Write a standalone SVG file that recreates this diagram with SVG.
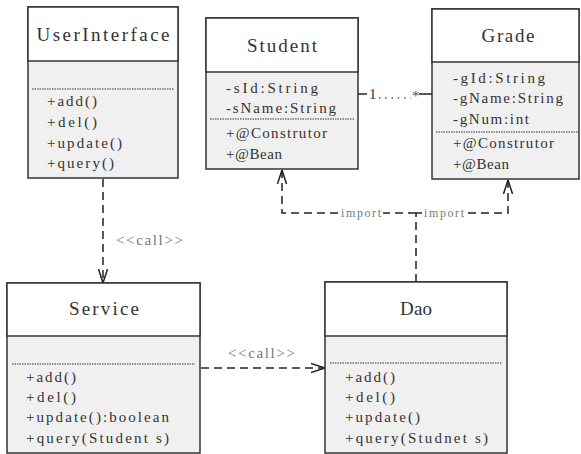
<svg xmlns="http://www.w3.org/2000/svg" width="581" height="454" viewBox="0 0 581 454">
<style>
.box{fill:#f0f0f0;stroke:#333;stroke-width:1.5}
.head{fill:#fff;stroke:#333;stroke-width:1.5}
.sep{stroke:#333;stroke-width:1;stroke-dasharray:1.5 1}
text{font-family:"Liberation Serif",serif}
.title{font-size:19px;fill:#333;text-anchor:middle}
.mem{font-size:15px;fill:#333}
.lbl{font-size:15px;fill:#777}
.imp{font-size:12px;fill:#777}
.dash{fill:none;stroke:#222;stroke-width:1.5;stroke-dasharray:8 5}
.solid{fill:none;stroke:#222;stroke-width:1.5}
</style>
<defs>
<marker id="open" viewBox="0 0 14 12" refX="14" refY="6" markerWidth="14" markerHeight="12" markerUnits="userSpaceOnUse" orient="auto">
<path d="M0,1.5 L14,6 L0,10.5" fill="none" stroke="#222" stroke-width="1.5"/>
</marker>
</defs>
<rect width="581" height="454" fill="#fff"/>

<g id="UserInterface">
<rect class="box" x="28" y="7" width="150" height="171"/>
<rect class="head" x="28" y="7" width="150" height="54"/>
<text class="title" x="103" y="41" textLength="133" lengthAdjust="spacing">UserInterface</text>
<line class="sep" x1="32" y1="89" x2="174" y2="89"/>
<text class="mem" x="47" y="106" textLength="50" lengthAdjust="spacing">+add()</text>
<text class="mem" x="47" y="127" textLength="50" lengthAdjust="spacing">+del()</text>
<text class="mem" x="47" y="148" textLength="75" lengthAdjust="spacing">+update()</text>
<text class="mem" x="47" y="168" textLength="67" lengthAdjust="spacing">+query()</text>
</g>

<g id="Student">
<rect class="box" x="206" y="18" width="152" height="151"/>
<rect class="head" x="206" y="18" width="152" height="54"/>
<text class="title" x="282" y="52" textLength="70" lengthAdjust="spacing">Student</text>
<text class="mem" x="226" y="93" textLength="92" lengthAdjust="spacing">-sId:String</text>
<text class="mem" x="226" y="113" textLength="110" lengthAdjust="spacing">-sName:String</text>
<line class="sep" x1="210" y1="119" x2="354" y2="119"/>
<text class="mem" x="226" y="138" textLength="101" lengthAdjust="spacing">+@Construtor</text>
<text class="mem" x="226" y="159" textLength="56" lengthAdjust="spacing">+@Bean</text>
</g>

<g id="Grade">
<rect class="box" x="432" y="9" width="147" height="170"/>
<rect class="head" x="432" y="9" width="147" height="53"/>
<text class="title" x="508" y="42" textLength="53" lengthAdjust="spacing">Grade</text>
<text class="mem" x="453" y="83" textLength="92" lengthAdjust="spacing">-gId:String</text>
<text class="mem" x="453" y="103" textLength="110" lengthAdjust="spacing">-gName:String</text>
<text class="mem" x="453" y="124" textLength="76" lengthAdjust="spacing">-gNum:int</text>
<line class="sep" x1="436" y1="132" x2="579" y2="132"/>
<text class="mem" x="453" y="148" textLength="101" lengthAdjust="spacing">+@Construtor</text>
<text class="mem" x="453" y="169" textLength="56" lengthAdjust="spacing">+@Bean</text>
</g>

<g id="Service">
<rect class="box" x="7" y="283" width="193" height="170"/>
<rect class="head" x="7" y="283" width="193" height="53"/>
<text class="title" x="104" y="315" textLength="70" lengthAdjust="spacing">Service</text>
<line class="sep" x1="12" y1="364" x2="195" y2="364"/>
<text class="mem" x="26" y="382" textLength="50" lengthAdjust="spacing">+add()</text>
<text class="mem" x="26" y="402" textLength="50" lengthAdjust="spacing">+del()</text>
<text class="mem" x="26" y="422" textLength="143" lengthAdjust="spacing">+update():boolean</text>
<text class="mem" x="26" y="443" textLength="143" lengthAdjust="spacing">+query(Student s)</text>
</g>

<g id="Dao">
<rect class="box" x="325" y="282" width="182" height="171"/>
<rect class="head" x="325" y="282" width="182" height="54"/>
<text class="title" x="416" y="315" textLength="32" lengthAdjust="spacing">Dao</text>
<line class="sep" x1="330" y1="363" x2="502" y2="363"/>
<text class="mem" x="345" y="382" textLength="50" lengthAdjust="spacing">+add()</text>
<text class="mem" x="345" y="402" textLength="50" lengthAdjust="spacing">+del()</text>
<text class="mem" x="345" y="422" textLength="75" lengthAdjust="spacing">+update()</text>
<text class="mem" x="345" y="443" textLength="143" lengthAdjust="spacing">+query(Studnet s)</text>
</g>

<g id="connectors">
<path class="dash" d="M103,179 V283" marker-end="url(#open)"/>
<text class="lbl" x="116" y="245" textLength="67" lengthAdjust="spacing">&lt;&lt;call&gt;&gt;</text>
<path class="dash" d="M201,368 H325" marker-end="url(#open)"/>
<text class="lbl" x="228" y="358" textLength="67" lengthAdjust="spacing">&lt;&lt;call&gt;&gt;</text>
<path class="solid" d="M358,94 H367"/>
<path class="solid" d="M419,94 H432"/>
<text class="mem" x="369" y="99">1</text>
<path d="M379,98 H411" stroke="#444" stroke-width="1.3" stroke-dasharray="1.3 5"/>
<text class="mem" x="412" y="101" style="fill:#8a3030">*</text>
<path class="dash" d="M416,282 V213"/>
<path class="dash" d="M416,213 H282 V170" marker-end="url(#open)"/>
<path class="dash" d="M416,213 H508 V180" marker-end="url(#open)"/>
<rect x="339" y="206" width="44" height="13" fill="#fff"/>
<text class="imp" x="341" y="217" textLength="40" lengthAdjust="spacing">import</text>
<rect x="422" y="206" width="44" height="13" fill="#fff"/>
<text class="imp" x="424" y="217" textLength="40" lengthAdjust="spacing">import</text>
</g>
</svg>
